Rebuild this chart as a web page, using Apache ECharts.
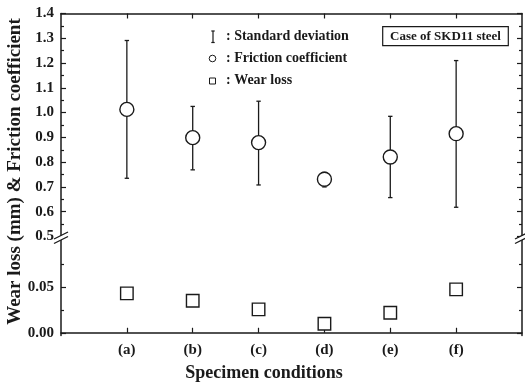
<!DOCTYPE html>
<html><head><meta charset="utf-8">
<script src="https://cdn.jsdelivr.net/npm/echarts@6/dist/echarts.min.js"></script>
<style>html,body{margin:0;padding:0;background:#fff}#c{width:525px;height:384px}</style>
</head><body><div id="c"></div>
<script>
const categories = ['(a)', '(b)', '(c)', '(d)', '(e)', '(f)'];
const frictionCoefficient = [1.013, 0.899, 0.879, 0.731, 0.821, 0.915];
const stdLow  = [0.735, 0.769, 0.708, 0.700, 0.657, 0.618];
const stdHigh = [1.291, 1.025, 1.046, 0.759, 0.985, 1.210];
const wearLoss = [0.0434, 0.0352, 0.0258, 0.0099, 0.0220, 0.0478];
const wearTicks = [0, 0.05];
const wearMinorTicks = [0.025, 0.075];
const yAxisName = 'Wear loss (mm) & Friction coefficient';
const xAxisName = 'Specimen conditions';
const legendTexts = [': Standard deviation', ': Friction coefficient', ': Wear loss'];
const caseText = 'Case of SKD11 steel';

const FONT = '"Liberation Serif", "Times New Roman", serif';
const INK = '#1a1a1a';
const catPos = categories.map((c, i) => i + 1);

const chart = echarts.init(document.getElementById('c'), null, {renderer: 'canvas'});

const axisLineStyle = {show: true, lineStyle: {color: INK, width: 1.5}};
const topRange = {min: 0.5, max: 1.4};
const botRange = {min: -0.003, max: 0.1055};

function tickOnlyAxis(gridIndex, position, range, values, len) {
  return Object.assign({
    type: 'value', gridIndex, position,
    axisLine: {show: false},
    axisTick: {show: true, inside: true, length: len, customValues: values, lineStyle: {color: INK, width: 1.2}},
    axisLabel: {show: false},
    splitLine: {show: false}
  }, range);
}

const option = {
  animation: false,
  backgroundColor: '#fff',
  grid: [
    {left: 61, right: 3, top: 13.5, height: 223, outerBoundsMode: 'none', containLabel: false},
    {left: 61, right: 3, top: 237, height: 98.5, outerBoundsMode: 'none', containLabel: false}
  ],
  xAxis: [
    {type: 'value', gridIndex: 0, position: 'top', min: 0, max: 7,
     axisLine: axisLineStyle,
     axisTick: {show: true, inside: true, length: 5, customValues: catPos, lineStyle: {color: INK, width: 1.2}},
     axisLabel: {show: false}, splitLine: {show: false}},
    {type: 'value', gridIndex: 1, position: 'bottom', min: 0, max: 7,
     axisLine: axisLineStyle,
     axisTick: {show: true, inside: true, length: 5, customValues: catPos, lineStyle: {color: INK, width: 1.2}},
     axisLabel: {show: true, customValues: catPos, margin: 7,
       formatter: v => categories[Math.round(v) - 1] || '',
       fontFamily: FONT, fontWeight: 'bold', fontSize: 15, color: INK},
     splitLine: {show: false}}
  ],
  yAxis: [
    Object.assign({type: 'value', gridIndex: 0, position: 'left', interval: 0.1,
     axisLine: axisLineStyle,
     axisTick: {show: true, inside: true, length: 5, lineStyle: {color: INK, width: 1.2}},
     minorTick: {show: true, splitNumber: 2, length: 3, lineStyle: {color: INK, width: 1.2}},
     axisLabel: {show: true, margin: 7, showMinLabel: true, showMaxLabel: true,
       formatter: v => v.toFixed(1),
       fontFamily: FONT, fontWeight: 'bold', fontSize: 15, color: INK},
     splitLine: {show: false}}, topRange),
    Object.assign({type: 'value', gridIndex: 0, position: 'right', interval: 0.1,
     axisLine: axisLineStyle,
     axisTick: {show: true, inside: true, length: 5, lineStyle: {color: INK, width: 1.2}},
     minorTick: {show: true, splitNumber: 2, length: 3, lineStyle: {color: INK, width: 1.2}},
     axisLabel: {show: false}, splitLine: {show: false}}, topRange),
    Object.assign({type: 'value', gridIndex: 1, position: 'left',
     axisLine: axisLineStyle,
     axisTick: {show: true, inside: true, length: 5, customValues: wearTicks, lineStyle: {color: INK, width: 1.2}},
     axisLabel: {show: true, margin: 7, customValues: wearTicks,
       formatter: v => v.toFixed(2),
       fontFamily: FONT, fontWeight: 'bold', fontSize: 15, color: INK},
     splitLine: {show: false}}, botRange),
    Object.assign({type: 'value', gridIndex: 1, position: 'right',
     axisLine: axisLineStyle,
     axisTick: {show: true, inside: true, length: 5, customValues: wearTicks, lineStyle: {color: INK, width: 1.2}},
     axisLabel: {show: false}, splitLine: {show: false}}, botRange),
    tickOnlyAxis(1, 'left', botRange, wearMinorTicks, 3),
    tickOnlyAxis(1, 'right', botRange, wearMinorTicks, 3)
  ],
  series: [
    {
      name: 'Standard deviation', type: 'custom', xAxisIndex: 0, yAxisIndex: 0, z: 2,
      data: catPos.map((x, i) => [x, stdLow[i], stdHigh[i]]),
      encode: {x: 0, y: [1, 2]},
      renderItem: function (params, api) {
        const x = api.value(0);
        const lo = api.coord([x, api.value(1)]);
        const hi = api.coord([x, api.value(2)]);
        const cap = 2.2;
        const st = {stroke: INK, lineWidth: 1.3};
        return {type: 'group', children: [
          {type: 'line', shape: {x1: lo[0], y1: lo[1], x2: hi[0], y2: hi[1]}, style: st},
          {type: 'line', shape: {x1: lo[0] - cap, y1: lo[1], x2: lo[0] + cap, y2: lo[1]}, style: st},
          {type: 'line', shape: {x1: hi[0] - cap, y1: hi[1], x2: hi[0] + cap, y2: hi[1]}, style: st}
        ]};
      }
    },
    {
      name: 'Friction coefficient', type: 'scatter', xAxisIndex: 0, yAxisIndex: 0, z: 3,
      symbol: 'circle', symbolSize: 14,
      itemStyle: {color: '#fff', borderColor: INK, borderWidth: 1.4, opacity: 1},
      data: catPos.map((x, i) => [x, frictionCoefficient[i]])
    },
    {
      name: 'Wear loss', type: 'scatter', xAxisIndex: 1, yAxisIndex: 2, z: 3,
      symbol: 'rect', symbolSize: 12.5,
      itemStyle: {color: '#fff', borderColor: INK, borderWidth: 1.4, opacity: 1},
      data: catPos.map((x, i) => [x, wearLoss[i]])
    }
  ],
  graphic: [
    // axis break marks
    {type: 'polygon', z: 100, shape: {points: [[54, 239], [68, 232], [68, 236.5], [54, 243.5]]}, style: {fill: '#fff'}},
    {type: 'line', z: 101, shape: {x1: 54, y1: 239, x2: 68, y2: 232}, style: {stroke: INK, lineWidth: 1.3}},
    {type: 'line', z: 101, shape: {x1: 54, y1: 243.5, x2: 68, y2: 236.5}, style: {stroke: INK, lineWidth: 1.3}},
    {type: 'polygon', z: 100, shape: {points: [[515, 239], [529, 232], [529, 236.5], [515, 243.5]]}, style: {fill: '#fff'}},
    {type: 'line', z: 101, shape: {x1: 515, y1: 239, x2: 529, y2: 232}, style: {stroke: INK, lineWidth: 1.3}},
    {type: 'line', z: 101, shape: {x1: 515, y1: 243.5, x2: 529, y2: 236.5}, style: {stroke: INK, lineWidth: 1.3}},
    // axis names
    {type: 'text', x: 15, y: 171.5, rotation: Math.PI / 2,
     style: {text: yAxisName, textAlign: 'center', textVerticalAlign: 'middle',
       font: 'bold 19px ' + FONT, fill: INK}},
    {type: 'text', x: 264, y: 373,
     style: {text: xAxisName, textAlign: 'center', textVerticalAlign: 'middle',
       font: 'bold 18px ' + FONT, fill: INK}},
    // legend symbols
    {type: 'line', shape: {x1: 213, y1: 31, x2: 213, y2: 42.5}, style: {stroke: INK, lineWidth: 1.2}},
    {type: 'line', shape: {x1: 211.3, y1: 31, x2: 214.7, y2: 31}, style: {stroke: INK, lineWidth: 1.2}},
    {type: 'line', shape: {x1: 211.3, y1: 42.5, x2: 214.7, y2: 42.5}, style: {stroke: INK, lineWidth: 1.2}},
    {type: 'circle', shape: {cx: 212.5, cy: 58.5, r: 3.3}, style: {fill: '#fff', stroke: INK, lineWidth: 1}},
    {type: 'rect', shape: {x: 209.5, y: 78, width: 6, height: 6}, style: {fill: '#fff', stroke: INK, lineWidth: 1}},
    {type: 'text', x: 226, y: 36.5, style: {text: legendTexts[0], textAlign: 'left', textVerticalAlign: 'middle', font: 'bold 14px ' + FONT, fill: INK}},
    {type: 'text', x: 226, y: 58.5, style: {text: legendTexts[1], textAlign: 'left', textVerticalAlign: 'middle', font: 'bold 14px ' + FONT, fill: INK}},
    {type: 'text', x: 226, y: 80.5, style: {text: legendTexts[2], textAlign: 'left', textVerticalAlign: 'middle', font: 'bold 14px ' + FONT, fill: INK}},
    // case box
    {type: 'rect', shape: {x: 382.7, y: 26.7, width: 125.6, height: 19}, style: {fill: '#fff', stroke: INK, lineWidth: 1.2}},
    {type: 'text', x: 445.5, y: 36.5, style: {text: caseText, textAlign: 'center', textVerticalAlign: 'middle', font: 'bold 13px ' + FONT, fill: INK}}
  ]
};
chart.setOption(option);
</script>
</body></html>
